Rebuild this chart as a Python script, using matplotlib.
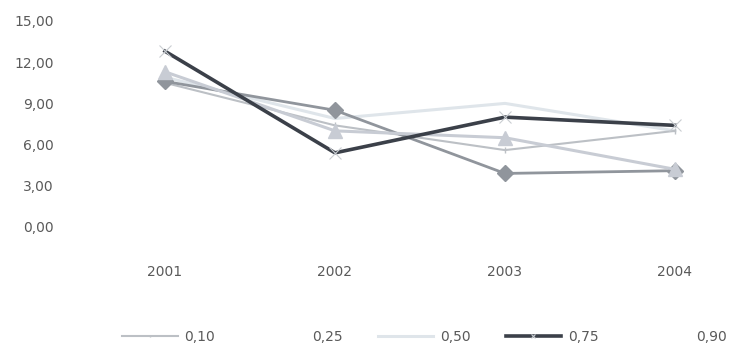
import matplotlib
matplotlib.use("Agg")
import matplotlib.pyplot as plt

years = ["2001", "2002", "2003", "2004"]
series_labels = ["0,10", "0,25", "0,50", "0,75", "0,90"]
v010 = [10.5, 7.4, 5.6, 7.0]
v025 = [10.6, 8.5, 3.9, 4.1]
v050 = [10.9, 7.9, 9.0, 7.0]
v075 = [12.8, 5.4, 8.0, 7.4]
v090 = [11.3, 7.0, 6.5, 4.2]
yticks = [0, 3, 6, 9, 12, 15]
ytick_labels = ["0,00", "3,00", "6,00", "9,00", "12,00", "15,00"]

W, H = 731, 347
fig = plt.figure(figsize=(W / 100, H / 100), dpi=100)
left, right, top, bottom = 62, 731, 21, 227
ax = fig.add_axes([left / W, 1 - bottom / H, (right - left) / W, (bottom - top) / H])

x = list(range(len(years)))
styles = [
    (v010, dict(color="#bcc0c5", lw=1.5, marker="|", ms=5, mew=1.0)),
    (v025, dict(color="#90959c", lw=2.0, marker="D", ms=8, mec="#90959c")),
    (v050, dict(color="#dfe5ea", lw=2.2, marker="", ms=0)),
    (v075, dict(color="#3b4049", lw=2.6, marker="x", ms=8, mew=0.8, mec="#c9cdd2")),
    (v090, dict(color="#c8ccd4", lw=2.2, marker="^", ms=10, mec="#c8ccd4")),
]
order = [2, 0, 1, 4, 3]
handles = [None] * 5
for i in order:
    vals, st = styles[i]
    h, = ax.plot(x, vals, label=series_labels[i], zorder=2 + order.index(i), **st)
    handles[i] = h

ax.set_xlim((left - 165) / 170, (right - 165) / 170)
ax.set_ylim(0, 15)
ax.set_xticks(x)
ax.set_xticklabels(years)
ax.set_yticks(yticks)
ax.set_yticklabels(ytick_labels)
for s in ax.spines.values():
    s.set_visible(False)
ax.tick_params(axis="both", length=0, labelsize=10, colors="#5a5a5a")
ax.tick_params(axis="x", pad=27)
ax.tick_params(axis="y", pad=6)

leg = fig.legend(handles, series_labels, ncol=5, frameon=False, loc="center left",
                 bbox_to_anchor=(122 / W, 1 - 337 / H), borderpad=0, borderaxespad=0,
                 handlelength=4.0, handletextpad=0.5, columnspacing=2.5,
                 fontsize=10, labelcolor="#5a5a5a", markerscale=0.4)
for i in (1, 4):
    leg.legend_handles[i].set_visible(False)

fig.savefig("out.png", dpi=100)
